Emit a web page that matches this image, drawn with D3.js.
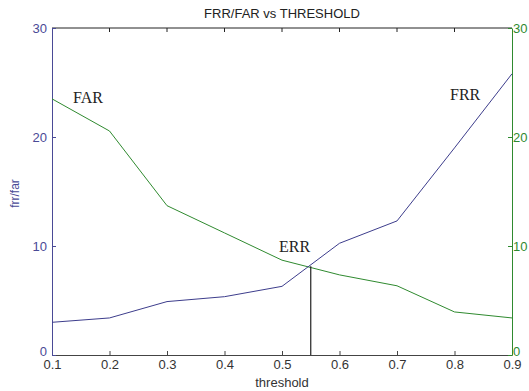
<!DOCTYPE html>
<html><head><meta charset="utf-8">
<script src="https://cdn.jsdelivr.net/npm/d3@7"></script>
<style>body{margin:0;background:#fff}svg{display:block}</style>
</head><body>
<script>
const thresholds = [0.1,0.2,0.3,0.4,0.5,0.6,0.7,0.8,0.9];
const frr = [3.0,3.4,4.9,5.35,6.3,10.25,12.3,19.0,25.8];
const far = [23.5,20.55,13.7,11.2,8.7,7.35,6.35,3.95,3.4];
const xTicks = [0.1,0.2,0.3,0.4,0.5,0.6,0.7,0.8,0.9];
const yTicks = [0,10,20,30];
const errX = 0.55, errY = 8.15;

const W=529,H=391;
const m={l:52,r:17,t:28,b:36};
const svg=d3.select("body").append("svg").attr("width",W).attr("height",H);
const x=d3.scaleLinear().domain([0.1,0.9]).range([m.l,W-m.r]);
const y=d3.scaleLinear().domain([0,30]).range([H-m.b,m.t]);
const blue="#3d3d8c", green="#2f8a2f", lblue="#4a4a96";
const font="'Liberation Sans', Arial, sans-serif";

svg.append("line").attr("x1",x(0.1)).attr("x2",x(0.9)).attr("y1",y(30)).attr("y2",y(30)).attr("stroke","#222");
svg.selectAll(".tt").data(xTicks.slice(1,-1)).enter().append("line")
 .attr("x1",d=>x(d)).attr("x2",d=>x(d)).attr("y1",y(30)).attr("y2",y(30)+4).attr("stroke","#222");

const xa=svg.append("g").attr("transform",`translate(0,${y(0)})`)
 .call(d3.axisBottom(x).tickValues(xTicks).tickSize(-4).tickSizeOuter(0).tickFormat(d3.format(".1f")));
xa.select(".domain").attr("stroke","#444");
xa.selectAll("line").attr("stroke","#444");
xa.selectAll("text").attr("fill","#333").attr("font-family",font).attr("font-size",13).attr("y",5).attr("dy","0.71em");

const ya=svg.append("g").attr("transform",`translate(${x(0.1)},0)`)
 .call(d3.axisLeft(y).tickValues(yTicks).tickSize(-4).tickSizeOuter(0));
ya.select(".domain").attr("stroke",lblue);
ya.selectAll("line").attr("stroke",lblue);
ya.selectAll("text").attr("fill",lblue).attr("font-family",font).attr("font-size",13).attr("x",-5)
 .attr("dy",d=>d===0?"0.0em":"0.32em");

const ra=svg.append("g").attr("transform",`translate(${x(0.9)},0)`)
 .call(d3.axisRight(y).tickValues(yTicks).tickSize(-4).tickSizeOuter(0));
ra.select(".domain").attr("stroke",green);
ra.selectAll("line").attr("stroke",green);
ra.selectAll("text").attr("fill",green).attr("font-family",font).attr("font-size",13).attr("x",1)
 .attr("dy",d=>d===0?"0.0em":"0.32em");

const line=d3.line().x((d,i)=>x(thresholds[i])).y(d=>y(d));
svg.append("path").datum(far).attr("d",line).attr("fill","none").attr("stroke",green).attr("stroke-width",1);
svg.append("path").datum(frr).attr("d",line).attr("fill","none").attr("stroke",blue).attr("stroke-width",1);

svg.append("line").attr("x1",x(errX)).attr("x2",x(errX)).attr("y1",y(0)).attr("y2",y(errY)).attr("stroke","#222").attr("stroke-width",1.2);

const serif="'Liberation Serif','Times New Roman',serif";
svg.append("text").attr("x",73).attr("y",103).text("FAR").attr("font-family",serif).attr("font-size",16).attr("fill","#222");
svg.append("text").attr("x",450).attr("y",100).text("FRR").attr("font-family",serif).attr("font-size",16).attr("fill","#222");
svg.append("text").attr("x",279).attr("y",252).text("ERR").attr("font-family",serif).attr("font-size",16).attr("fill","#222");

svg.append("text").attr("x",(x(0.1)+x(0.9))/2).attr("y",18).attr("text-anchor","middle").text("FRR/FAR vs THRESHOLD")
 .attr("font-family",font).attr("font-size",13).attr("fill","#222");
svg.append("text").attr("x",(x(0.1)+x(0.9))/2).attr("y",387).attr("text-anchor","middle").text("threshold")
 .attr("font-family",font).attr("font-size",13).attr("fill","#333");
svg.append("text").attr("transform",`translate(19,${y(15)+2}) rotate(-90)`).attr("text-anchor","middle").text("frr/far")
 .attr("font-family",font).attr("font-size",12).attr("fill",lblue);
</script>
</body></html>
